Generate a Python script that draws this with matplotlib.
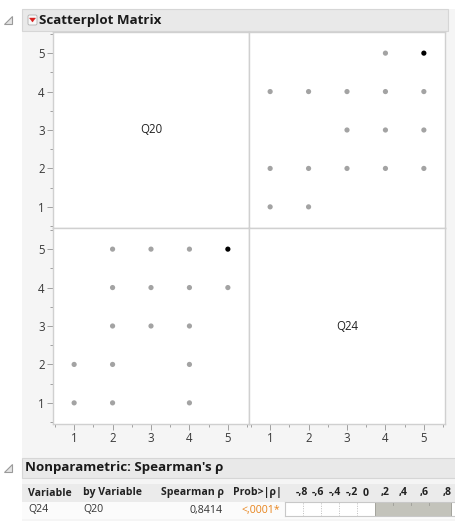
import matplotlib
matplotlib.use("Agg")
import matplotlib.pyplot as plt
from matplotlib.patches import Rectangle, Polygon, FancyBboxPatch

# ---------------- data ----------------
variables = ["Q20", "Q24"]
q20 = [1, 1, 2, 2, 2, 2, 2, 3, 3, 3, 4, 4, 4, 4, 4, 5, 5]
q24 = [1, 2, 1, 2, 3, 4, 5, 3, 4, 5, 1, 2, 3, 4, 5, 4, 5]
highlight = [False] * 16 + [True]
axis_ticks = [1, 2, 3, 4, 5]
table_headers = ["Variable", "by Variable", "Spearman ρ", "Prob>|ρ|"]
spearman_var = "Q24"
spearman_by = "Q20"
spearman_rho = 0.8414
spearman_rho_label = "0,8414"
spearman_p_label = "<,0001*"
rho_tick_labels = ["-,8", "-,6", "-,4", "-,2", "0", ",2", ",4", ",6", ",8"]
rho_grid = [-0.8, -0.6, -0.4, -0.2]
rho_minor = [0.2, 0.4, 0.6]

data = {"Q20": q20, "Q24": q24}

# ---------------- layout ----------------
W, H = 456, 521
FONT = ["Open Sans", "DejaVu Sans"]
plt.rcParams["font.family"] = FONT

fig = plt.figure(figsize=(W / 100, H / 100), dpi=100)
fig.patch.set_facecolor("white")


def ax_at(x0, y0, w, h, **kw):
    return fig.add_axes([x0 / W, 1 - (y0 + h) / H, w / W, h / H], **kw)


bg = ax_at(0, 0, W, H)
bg.set_xlim(0, W)
bg.set_ylim(H, 0)
bg.axis("off")
bg.set_zorder(-5)

# content background
bg.add_patch(Rectangle((22, 9), W - 22, H - 9, facecolor="#f5f5f5", edgecolor="none"))

# header bar 1
bg.add_patch(Rectangle((22, 9), 426, 22, facecolor="#e9e9e9", edgecolor="#d6d6d6", lw=0.8))
bg.add_patch(Polygon([(4, 24), (12, 24), (12, 16)], closed=True, facecolor="#e4e4e4",
                     edgecolor="#9a9a9a", lw=0.8))
bg.add_patch(FancyBboxPatch((28, 15), 9, 10, boxstyle="round,pad=0,rounding_size=1.5",
                            facecolor="#f8f8f8", edgecolor="#b0b0b0", lw=0.6))
bg.add_patch(Polygon([(29.5, 18), (35.5, 18), (32.5, 22)], closed=True, facecolor="#d8201e",
                     edgecolor="#d8201e", lw=0.3))
bg.text(39.5, 20.5, "Scatterplot Matrix", fontsize=9.6, fontweight="bold", color="#1a1a1a",
        ha="left", va="center")

# header bar 2
bg.add_patch(Rectangle((22, 458), W - 22, 20, facecolor="#e9e9e9", edgecolor="#d6d6d6", lw=0.8))
bg.add_patch(Polygon([(4, 472), (12, 472), (12, 464)], closed=True, facecolor="#e4e4e4",
                     edgecolor="#9a9a9a", lw=0.8))
bg.text(25, 468, "Nonparametric: Spearman's ρ", fontsize=9.6, fontweight="bold",
        color="#1a1a1a", ha="left", va="center")

# table
bg.add_patch(Rectangle((22, 484), W - 22, 18, facecolor="#ebebeb", edgecolor="none"))
bg.add_patch(Rectangle((22, 502), W - 22, 17, facecolor="#fbfbfb", edgecolor="none"))
hdr_y, row_y = 493, 510
FS = 7.6
bg.text(28, hdr_y, table_headers[0], fontsize=FS, fontweight="bold", color="#222",
        ha="left", va="center")
bg.text(83, hdr_y, table_headers[1], fontsize=FS, fontweight="bold", color="#222",
        ha="left", va="center")
bg.text(224, hdr_y, table_headers[2], fontsize=FS, fontweight="bold", color="#222",
        ha="right", va="center")
bg.text(282, hdr_y, table_headers[3], fontsize=FS, fontweight="bold", color="#222",
        ha="right", va="center")
bg.text(28, row_y, spearman_var, fontsize=FS, color="#333", ha="left", va="center")
bg.text(83, row_y, spearman_by, fontsize=FS, color="#333", ha="left", va="center")
bg.text(223, row_y, spearman_rho_label, fontsize=FS, color="#333", ha="right", va="center")
bg.text(280, row_y, spearman_p_label, fontsize=FS, color="#e8841c", ha="right", va="center")
label_px = [302, 318, 335, 352, 366, 385, 403, 424, 447]
for lab, xp in zip(rho_tick_labels, label_px):
    bg.text(xp, hdr_y, lab, fontsize=FS, fontweight="bold", color="#222",
            ha="center", va="center")

# bar cell
axb = ax_at(285, 502, 180, 14)
axb.set_xlim(-1, 1)
axb.set_ylim(0, 1)
axb.set_facecolor("white")
for s in axb.spines.values():
    s.set_color("#c8c8c8")
    s.set_linewidth(0.8)
axb.set_xticks([])
axb.set_yticks([])
for g in rho_grid:
    axb.axvline(g, color="#bdbdbd", lw=0.7, ls=(0, (1, 1.5)))
axb.barh(0.5, spearman_rho, height=1.0, left=0, color="#c3c3bb", edgecolor="#a3a39c", lw=0.7)
for g in rho_minor:
    axb.plot([g, g], [0.8, 1.0], color="#9c9c96", lw=0.6)

# scatterplot matrix panels
PX0, PY0, PS = 53, 32, 196
lim = (0.45, 5.55)
minor = [0.5, 1.5, 2.5, 3.5, 4.5, 5.5]
for i, yv in enumerate(variables):
    for j, xv in enumerate(variables):
        ax = ax_at(PX0 + j * PS, PY0 + i * PS, PS, PS)
        ax.set_facecolor("white")
        ax.set_xlim(*lim)
        ax.set_ylim(*lim)
        for s in ax.spines.values():
            s.set_color("#d0d0d0")
            s.set_linewidth(1.0)
        ax.set_xticks(axis_ticks)
        ax.set_yticks(axis_ticks)
        ax.set_xticks(minor, minor=True)
        ax.set_yticks(minor, minor=True)
        ax.tick_params(which="major", length=4, width=0.7, color="#a0a0a0",
                       labelsize=8.3, labelcolor="#3a3a3a", pad=2)
        ax.tick_params(which="minor", length=2.5, width=0.7, color="#a0a0a0")
        ax.tick_params(left=(j == 0), labelleft=(j == 0), which="both")
        ax.tick_params(bottom=(i == len(variables) - 1),
                       labelbottom=(i == len(variables) - 1), which="both")
        if i == j:
            ax.text(0.5, 0.5, xv, transform=ax.transAxes, ha="center", va="center",
                    fontsize=8.3, color="#222")
        else:
            xs = data[xv]
            ys = data[yv]
            cols = ["black" if h else "#a3a3a3" for h in highlight]
            ax.scatter(xs, ys, s=14, c=cols, linewidths=0, zorder=3)

fig.savefig("out.png", dpi=100, facecolor=fig.get_facecolor())
